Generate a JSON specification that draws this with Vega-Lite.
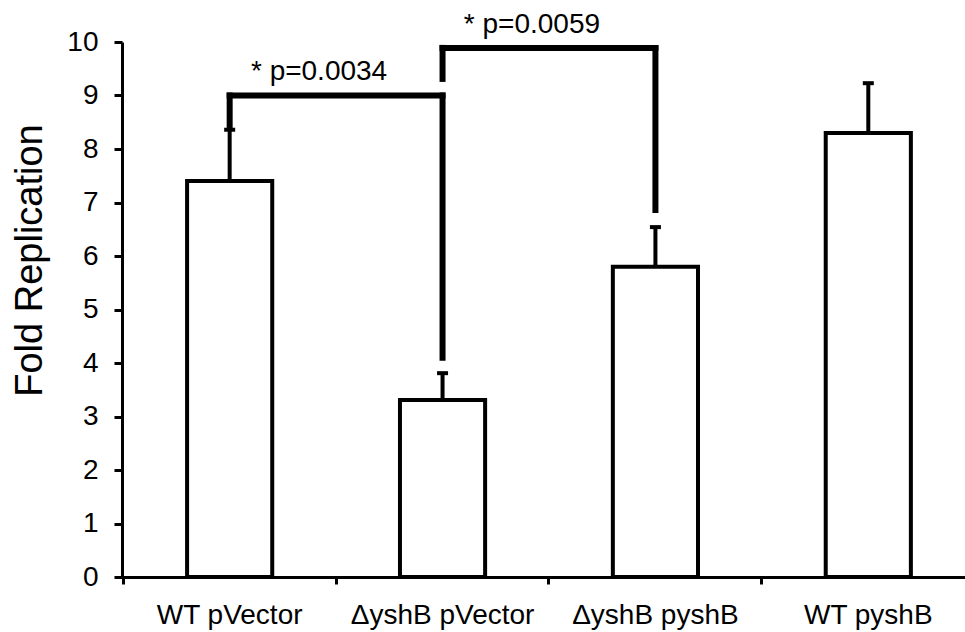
{
  "$schema": "https://vega.github.io/schema/vega-lite/v6.json",
  "autosize": "none",
  "width": 843,
  "height": 535,
  "padding": {"left": 122, "top": 42, "right": 0, "bottom": 55},
  "background": "white",
  "config": {
    "view": {"stroke": null},
    "font": "Liberation Sans",
    "axis": {"labelFont": "Liberation Sans", "titleFont": "Liberation Sans", "labelColor": "black", "titleColor": "black", "domainColor": "black", "tickColor": "black", "grid": false}
  },
  "datasets": {
    "bars": [
      {"strain": "WT pVector", "value": 7.4, "err": 8.36},
      {"strain": "ΔyshB pVector", "value": 3.31, "err": 3.81},
      {"strain": "ΔyshB pyshB", "value": 5.8, "err": 6.54},
      {"strain": "WT pyshB", "value": 8.3, "err": 9.23}
    ],
    "brackets": [
      {"from": "WT pVector", "to": "WT pVector", "y1": 8.4, "y2": 9.0},
      {"from": "WT pVector", "to": "ΔyshB pVector", "y1": 9.0, "y2": 9.0},
      {"from": "ΔyshB pVector", "to": "ΔyshB pVector", "y1": 9.0, "y2": 4.1},
      {"from": "ΔyshB pVector", "to": "ΔyshB pVector", "y1": 9.31, "y2": 9.89},
      {"from": "ΔyshB pVector", "to": "ΔyshB pyshB", "y1": 9.89, "y2": 9.89},
      {"from": "ΔyshB pyshB", "to": "ΔyshB pyshB", "y1": 9.89, "y2": 6.86}
    ],
    "labels": [
      {"from": "WT pVector", "y": 9.29, "text": "* p=0.0034"},
      {"from": "ΔyshB pVector", "y": 10.17, "text": "* p=0.0059"}
    ]
  },
  "layer": [
    {
      "data": {"name": "bars"},
      "mark": {"type": "bar", "fill": "white", "stroke": "black", "strokeWidth": 4, "strokeJoin": "miter"},
      "encoding": {
        "x": {
          "field": "strain", "type": "nominal", "sort": null,
          "scale": {"paddingInner": 0.6, "paddingOuter": 0.28, "align": 0.546},
          "axis": {
            "title": null, "labelAngle": 0, "labelFontSize": 28, "labelPadding": 17, "labelLimit": 0, "labelOverlap": false,
            "domainWidth": 3, "tickWidth": 3, "tickSize": 7, "bandPosition": -0.75
          }
        },
        "y": {
          "field": "value", "type": "quantitative",
          "scale": {"domain": [0, 10], "nice": false, "zero": true},
          "axis": {
            "title": "Fold Replication", "titleFontSize": 38, "titleFontWeight": "normal",
            "titleX": -81, "titleY": 218, "titleAlign": "center", "titleBaseline": "alphabetic", "titleAngle": -90,
            "values": [0, 1, 2, 3, 4, 5, 6, 7, 8, 9, 10],
            "labelFontSize": 28, "labelPadding": 16,
            "domainWidth": 3, "tickWidth": 3, "tickSize": 8
          }
        }
      }
    },
    {
      "data": {"name": "bars"},
      "mark": {"type": "rule", "color": "black", "strokeWidth": 4},
      "encoding": {
        "x": {"field": "strain", "type": "nominal", "sort": null},
        "y": {"field": "value", "type": "quantitative"},
        "y2": {"field": "err"}
      }
    },
    {
      "data": {"name": "bars"},
      "mark": {"type": "tick", "color": "black", "thickness": 4, "size": 11, "opacity": 1},
      "encoding": {
        "x": {"field": "strain", "type": "nominal", "sort": null},
        "y": {"field": "err", "type": "quantitative"}
      }
    },
    {
      "data": {"name": "brackets"},
      "mark": {"type": "rule", "color": "black", "strokeWidth": 6, "strokeCap": "square"},
      "encoding": {
        "x": {"field": "from", "type": "nominal", "sort": null},
        "x2": {"field": "to"},
        "y": {"field": "y1", "type": "quantitative"},
        "y2": {"field": "y2"}
      }
    },
    {
      "data": {"name": "labels"},
      "mark": {"type": "text", "color": "black", "fontSize": 28, "align": "center", "baseline": "alphabetic"},
      "encoding": {
        "x": {"field": "from", "type": "nominal", "sort": null, "bandPosition": 1.55},
        "y": {"field": "y", "type": "quantitative"},
        "text": {"field": "text"}
      }
    }
  ]
}
